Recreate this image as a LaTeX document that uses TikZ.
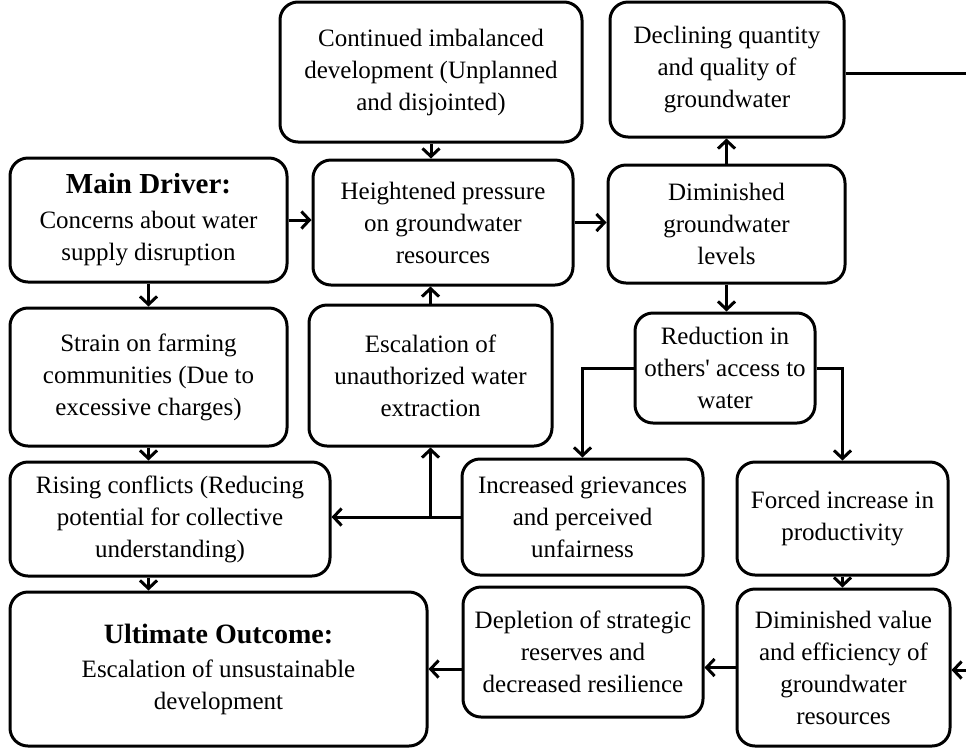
\documentclass[tikz,border=0pt]{standalone}
\usepackage{fontspec}
\setmainfont{Liberation Serif}
\usetikzlibrary{arrows.meta}

\begin{document}
\begin{tikzpicture}[x=1pt, y=-1pt,
  box/.style={draw=black, line width=3pt, rounded corners=18pt, align=center, inner sep=0pt, font=\fontsize{25}{32}\selectfont},
  arr/.style={line width=3pt, -{Straight Barb[length=8pt,width=17pt]}},
  lin/.style={line width=3pt}]

\useasboundingbox (0,0) rectangle (966,748);

% Les boîtes de la colonne de gauche
\node[box, minimum width=277pt, minimum height=124pt] (main) at (148.5,220) {{\fontsize{29}{32}\selectfont\bfseries Main Driver:}\\[3pt]Concerns about water\\supply disruption};
\node[box, minimum width=277pt, minimum height=138pt] (stra) at (148.5,377) {Strain on farming\\communities (Due to\\excessive charges)};
\node[box, minimum width=320pt, minimum height=114pt] (risi) at (170,519) {Rising conflicts (Reducing\\potential for collective\\understanding)};
\node[box, minimum width=417pt, minimum height=154pt] (ulti) at (218.5,669) {{\fontsize{28}{32}\selectfont\bfseries Ultimate Outcome:}\\[2pt]Escalation of unsustainable\\development};

% Les boîtes du milieu
\node[box, minimum width=302pt, minimum height=140pt] (cont) at (431,72) {Continued imbalanced\\development (Unplanned\\and disjointed)};
\node[box, minimum width=260pt, minimum height=125pt] (heig) at (443,222.5) {Heightened pressure\\on groundwater\\resources};
\node[box, minimum width=243pt, minimum height=141pt] (esca) at (430.5,375.5) {Escalation of\\unauthorized water\\extraction};
\node[box, minimum width=241pt, minimum height=116pt] (incr) at (582.5,517) {Increased grievances\\and perceived\\unfairness};
\node[box, minimum width=240pt, minimum height=130pt] (depl) at (583,652) {Depletion of strategic\\reserves and\\decreased resilience};

% Les boîtes de droite
\node[box, minimum width=234pt, minimum height=135pt] (decl) at (727,69.5) {Declining quantity\\and quality of\\groundwater};
\node[box, minimum width=237pt, minimum height=118pt] (dimi) at (726.5,224) {Diminished\\groundwater\\levels};
\node[box, minimum width=180pt, minimum height=110pt] (redu) at (725,368) {Reduction in\\others\textquotesingle{} access to\\water};
\node[box, minimum width=211pt, minimum height=113pt] (forc) at (842.5,518.5) {Forced increase in\\productivity};
\node[box, minimum width=213pt, minimum height=157pt] (dval) at (843.5,667.5) {Diminished value\\and efficiency of\\groundwater\\resources};

% Les extrémités libres au bord droit
\coordinate (rtop) at (966,73);
\coordinate (rbot) at (966,670);

% Les connexions
\draw[arr] (main.east) -- (main.east -| heig.west);
\draw[arr] (cont.south) -- (cont.south |- heig.north);
\draw[arr] (heig.east) -- (heig.east -| dimi.west);
\draw[arr] (dimi.north) -- (dimi.north |- decl.south);
\draw[lin] (decl.east |- rtop) -- (rtop);
\draw[arr] (dimi.south) -- (dimi.south |- redu.north);
\draw[arr] (redu.west) -| (incr.north);
\draw[arr] (redu.east) -| (forc.north);
\draw[arr] (forc.south) -- (forc.south |- dval.north);
\draw[arr] (rbot) -- (dval.east |- rbot);
\draw[arr] (dval.west) -- (dval.west -| depl.east);
\draw[arr] (depl.west |- ulti.east) -- (ulti.east);
\draw[arr] (esca.north) -- (esca.north |- heig.south);
\draw[arr] (incr.west) -- (incr.west -| risi.east);
\draw[arr] (incr.west -| esca.south) -- (esca.south);
\draw[arr] (main.south) -- (main.south |- stra.north);
\draw[arr] (stra.south) -- (stra.south |- risi.north);
\draw[arr] (stra.south |- risi.south) -- (stra.south |- ulti.north);

\end{tikzpicture}
\end{document}
